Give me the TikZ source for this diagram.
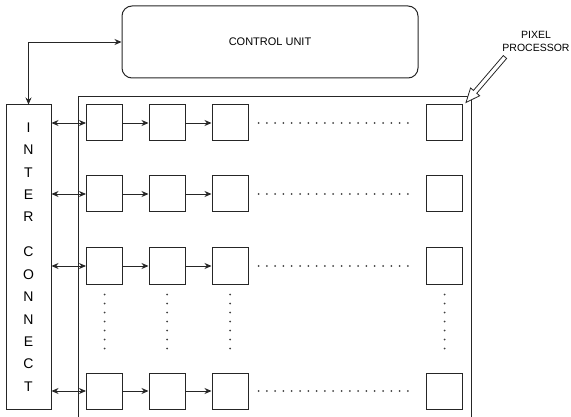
\documentclass[tikz,border=0pt]{standalone}
\usepackage{fontspec}
\setmainfont{Liberation Sans}
\usetikzlibrary{arrows.meta, calc}

\tikzset{
  box/.style={draw=black!85, line width=1pt},
  cell/.style={box, minimum width=36pt, minimum height=36pt, inner sep=0pt},
  link/.style={line width=0.9pt, draw=black!85, -{Stealth[length=7pt, width=6pt]}},
  biglink/.style={link, {Stealth[length=7pt, width=6pt]}-{Stealth[length=7pt, width=6pt]}},
  dotrow/.style={line width=2pt, line cap=round, dash pattern=on 0pt off 8.3pt, draw=black!75},
}

\begin{document}
\begin{tikzpicture}[x=1pt, y=-1pt]
  \useasboundingbox (0,0) rectangle (571,417);

  % control unit and interconnect
  \node[box, rounded corners=10pt, minimum width=296pt, minimum height=72pt,
        font=\fontsize{11}{13}\selectfont] (cu) at (270,42) {CONTROL UNIT};
  \node[box, minimum width=45pt, minimum height=304pt, inner sep=0pt, align=center,
        font=\fontsize{14}{22.4}\selectfont] (ic) at (28.5,257)
        {I\\N\\T\\E\\R\\[12.6pt]C\\O\\N\\N\\E\\C\\T};
  \draw[biglink] (ic.north) |- (cu.west);

  % processor array
  \draw[box] (78,417) |- (471,97) -- (471,417);
  \foreach \r/\y in {1/123, 2/194, 3/266, 4/391}
    \foreach \c/\x in {1/104.5, 2/167, 3/230, 4/444.5}
      \node[cell] (c\r\c) at (\x,\y) {};

  \foreach \r in {1,...,4} {
    \draw[biglink] (ic.east |- c\r1) -- (c\r1.west);
    \draw[link] (c\r1) -- (c\r2);
    \draw[link] (c\r2) -- (c\r3);
    \draw[dotrow] ($(c\r3.east)+(10,0)$) -- ($(c\r4.west)+(-13,0)$);
  }
  \foreach \c in {1,...,4}
    \draw[dotrow, dash pattern=on 0pt off 9pt] ($(c3\c.south)+(0,10)$) -- ($(c4\c.north)+(0,-16)$);

  % pixel processor label
  \node[align=center, inner sep=0pt, font=\fontsize{10.5}{13}\selectfont] (pp) at (536,41) {PIXEL\\PROCESSOR};
  \coordinate (pptail) at (505,57);
  \coordinate (pptip) at ($(c14.north east)+(3,-2)$);
  \coordinate (hb) at ($(pptip)!14pt!(pptail)$);
  \draw[box, line width=0.8pt, fill=white] (pptip) -- ($(hb)!6pt!90:(pptail)$)
    -- ($(hb)!2.2pt!90:(pptail)$) -- ($(pptail)!2.2pt!-90:(hb)$)
    -- ($(pptail)!2.2pt!90:(hb)$) -- ($(hb)!2.2pt!-90:(pptail)$)
    -- ($(hb)!6pt!-90:(pptail)$) -- cycle;
\end{tikzpicture}
\end{document}
